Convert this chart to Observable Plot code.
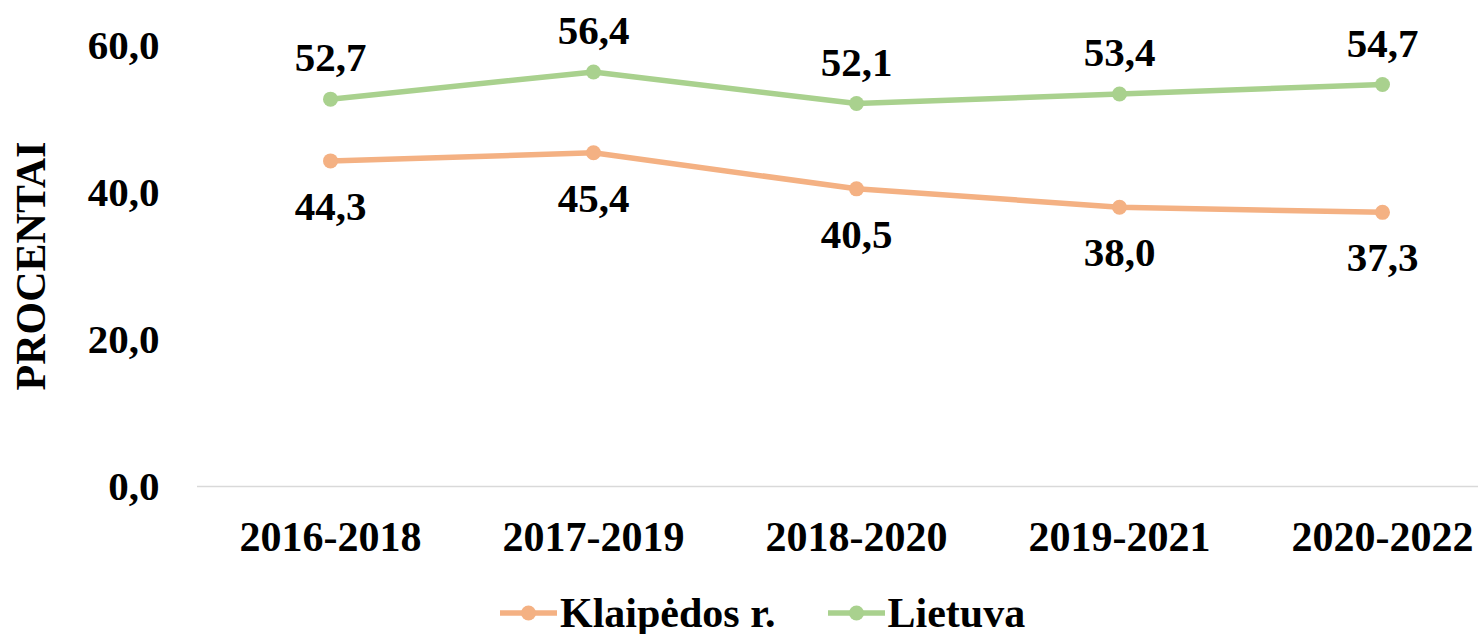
<!DOCTYPE html>
<html>
<head>
<meta charset="utf-8">
<script src="https://cdn.jsdelivr.net/npm/d3@7"></script>
<script src="https://cdn.jsdelivr.net/npm/@observablehq/plot@0.6"></script>
<style>
  body { margin: 0; background: #fff; font-family: "Liberation Serif", serif; }
  #chart svg { display: block; }
  #legend { position: relative; height: 48px; margin-top: 6px; }
  #legend .items { position: absolute; left: 500px; top: 0; display: flex; align-items: center; height: 54px; font-family: "Liberation Serif", serif; font-weight: bold; font-size: 42px; color: #000; }
  #legend .item { display: flex; align-items: center; margin-right: 52px; }
  #legend .item svg { display: block; margin-right: 3px; }
</style>
</head>
<body>
<div id="chart"></div>
<div id="legend"><div class="items"></div></div>
<script>
const periods = ["2016-2018", "2017-2019", "2018-2020", "2019-2021", "2020-2022"];
const klaipedosValues = [44.3, 45.4, 40.5, 38.0, 37.3];
const lietuvaValues = [52.7, 56.4, 52.1, 53.4, 54.7];
const seriesNames = ["Klaipėdos r.", "Lietuva"];
const seriesColors = ["#F4B183", "#A9D18E"];
const yTicks = [0, 20, 40, 60];
const yTitle = "PROCENTAI";

const fmt = v => v.toFixed(1).replace(".", ",");

const klaipedos = periods.map((p, i) => ({period: p, value: klaipedosValues[i], series: seriesNames[0]}));
const lietuva = periods.map((p, i) => ({period: p, value: lietuvaValues[i], series: seriesNames[1]}));
const data = [...klaipedos, ...lietuva];

const chart = Plot.plot({
  width: 1478,
  height: 580,
  marginLeft: 197,
  marginRight: 0,
  marginTop: 45,
  marginBottom: 94,
  style: {fontFamily: "Liberation Serif, serif", fontWeight: "bold", fontSize: "41px", color: "#000", background: "#fff", overflow: "visible"},
  x: {type: "point", domain: periods, range: [329, 1382], padding: 0},
  y: {domain: [0, 60]},
  color: {domain: seriesNames, range: seriesColors},
  marks: [
    Plot.ruleY([0], {stroke: "#d9d9d9", strokeWidth: 1.5}),
    Plot.axisY({ticks: yTicks, tickFormat: fmt, tickSize: 0, tickPadding: 38, fontSize: 41, fontFamily: "Liberation Serif", label: yTitle, labelAnchor: "center", labelOffset: 182, labelArrow: "none"}),
    Plot.axisX({tickSize: 0, tickPadding: 35, fontSize: 42, fontFamily: "Liberation Serif", label: null}),
    Plot.line(data, {x: "period", y: "value", z: "series", stroke: "series", strokeWidth: 5.5}),
    Plot.dot(data, {x: "period", y: "value", fill: "series", r: 7.5}),
    Plot.text(lietuva, {x: "period", y: "value", text: d => fmt(d.value), dy: -41, fontSize: 41, fontFamily: "Liberation Serif", fill: "#000"}),
    Plot.text(klaipedos, {x: "period", y: "value", text: d => fmt(d.value), dy: 46, fontSize: 41, fontFamily: "Liberation Serif", fill: "#000"})
  ]
});
// enlarge the y-axis title to match the reference
d3.select(chart).selectAll('[aria-label="y-axis label"]').attr("font-size", 42).selectAll("text").attr("font-size", 42);
document.getElementById("chart").appendChild(chart);

const items = document.querySelector("#legend .items");
seriesNames.forEach((name, i) => {
  const item = document.createElement("div");
  item.className = "item";
  item.innerHTML = `<svg width="57" height="18" viewBox="0 0 57 18"><line x1="0" y1="9" x2="57" y2="9" stroke="${seriesColors[i]}" stroke-width="5.5"/><circle cx="28.5" cy="9" r="7.5" fill="${seriesColors[i]}"/></svg><span>${name}</span>`;
  items.appendChild(item);
});
</script>
</body>
</html>
